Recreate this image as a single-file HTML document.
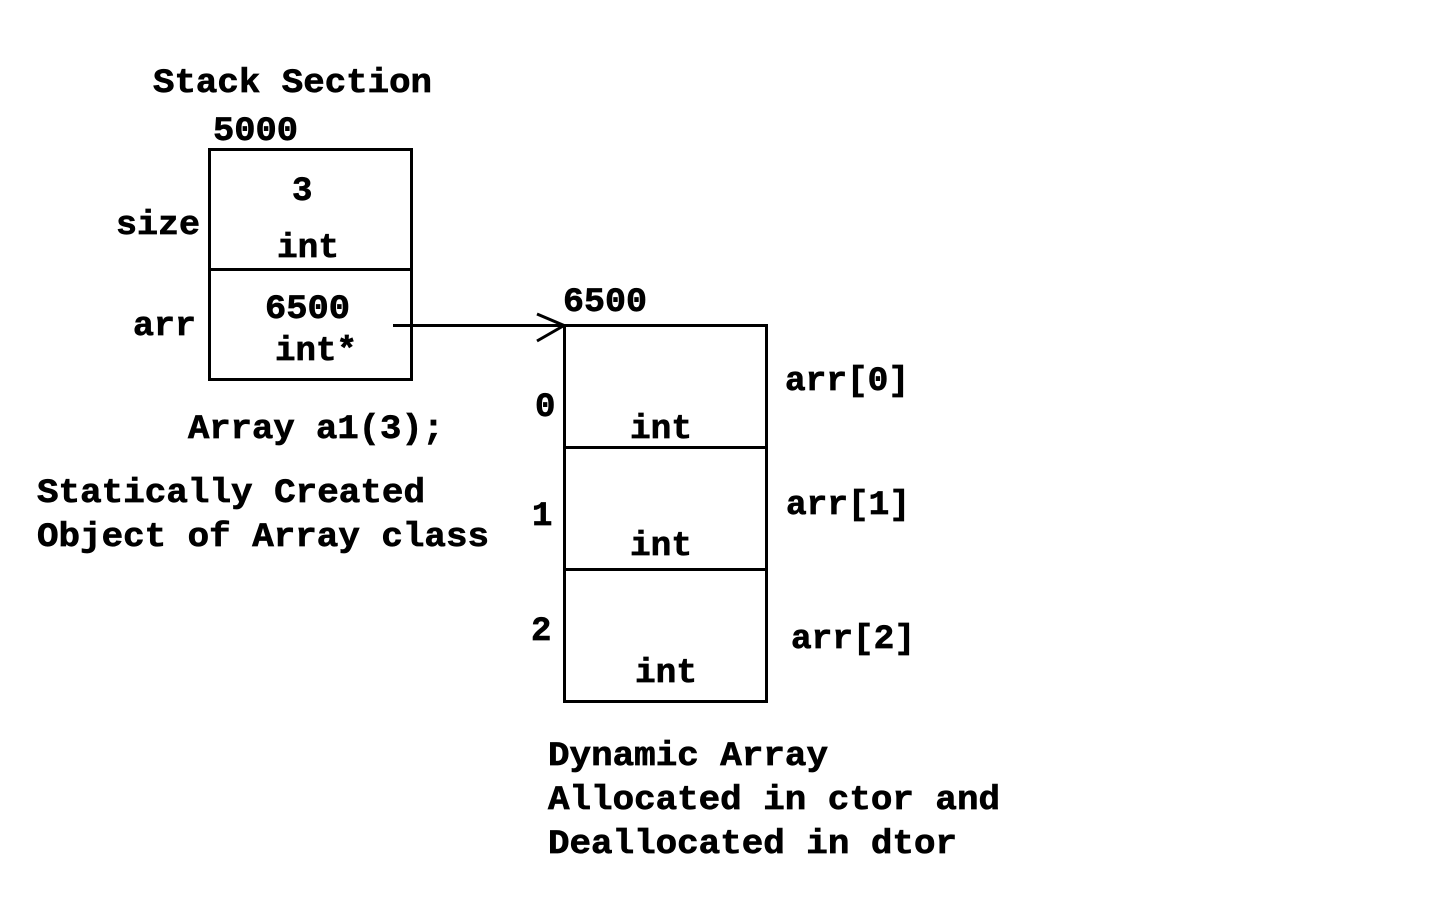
<!DOCTYPE html>
<html><head><meta charset="utf-8"><style>
html,body{margin:0;padding:0;background:#fff;}
svg{display:block;}
text{font-family:"Liberation Mono","DejaVu Sans Mono",monospace;font-weight:bold;font-size:34px;fill:#000;stroke:#000;stroke-width:0.7px;}
</style></head><body>
<svg width="1440" height="900" viewBox="0 0 1440 900" xmlns="http://www.w3.org/2000/svg">
<rect width="1440" height="900" fill="#fff"/>
<g fill="none" stroke="#000" stroke-width="3">
<rect x="209.5" y="149.5" width="202" height="230"/>
<line x1="209" y1="269.5" x2="412" y2="269.5"/>
<rect x="564.5" y="325.5" width="202" height="376"/>
<line x1="564" y1="447.5" x2="767" y2="447.5"/>
<line x1="564" y1="569.5" x2="767" y2="569.5"/>
<line x1="393" y1="325.5" x2="564" y2="325.5"/>
<polyline points="537,314 564,325.5 537,341"/>
</g>
<text x="153" y="92" textLength="279" lengthAdjust="spacingAndGlyphs">Stack Section</text>
<text x="213" y="140" textLength="85" lengthAdjust="spacingAndGlyphs">5000</text>
<text x="292" y="200">3</text>
<text x="277" y="257" textLength="62" lengthAdjust="spacingAndGlyphs">int</text>
<text x="116" y="234" textLength="84" lengthAdjust="spacingAndGlyphs">size</text>
<text x="133" y="335" textLength="63" lengthAdjust="spacingAndGlyphs">arr</text>
<text x="265" y="318" textLength="85" lengthAdjust="spacingAndGlyphs">6500</text>
<text x="275" y="360" textLength="82" lengthAdjust="spacingAndGlyphs">int*</text>
<text x="563" y="311" textLength="84" lengthAdjust="spacingAndGlyphs">6500</text>
<text x="188" y="438" textLength="256" lengthAdjust="spacingAndGlyphs">Array a1(3);</text>
<text x="37" y="502" textLength="388" lengthAdjust="spacingAndGlyphs">Statically Created</text>
<text x="37" y="546" textLength="452" lengthAdjust="spacingAndGlyphs">Object of Array class</text>
<text x="785" y="390" textLength="124" lengthAdjust="spacingAndGlyphs">arr[0]</text>
<text x="786" y="514" textLength="124" lengthAdjust="spacingAndGlyphs">arr[1]</text>
<text x="791" y="648" textLength="124" lengthAdjust="spacingAndGlyphs">arr[2]</text>
<text x="535" y="416">0</text>
<text x="532" y="525">1</text>
<text x="531" y="640">2</text>
<text x="630" y="438" textLength="62" lengthAdjust="spacingAndGlyphs">int</text>
<text x="630" y="555" textLength="62" lengthAdjust="spacingAndGlyphs">int</text>
<text x="635" y="682" textLength="62" lengthAdjust="spacingAndGlyphs">int</text>
<text x="548" y="765" textLength="280" lengthAdjust="spacingAndGlyphs">Dynamic Array</text>
<text x="548" y="809" textLength="452" lengthAdjust="spacingAndGlyphs">Allocated in ctor and</text>
<text x="548" y="853" textLength="409" lengthAdjust="spacingAndGlyphs">Deallocated in dtor</text>
</svg>
</body></html>
